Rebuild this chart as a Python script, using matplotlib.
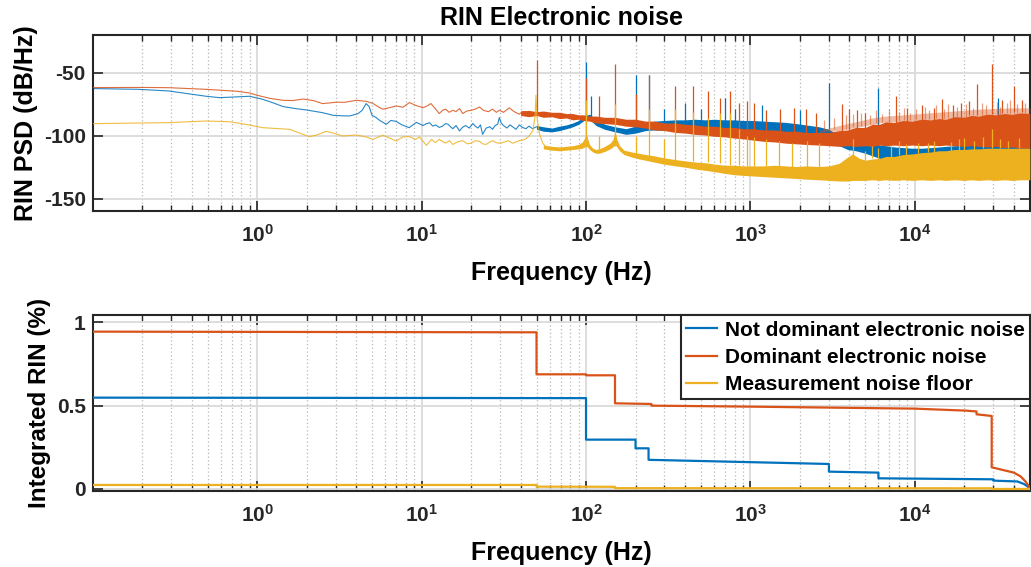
import numpy as np
import matplotlib
matplotlib.use("Agg")
import matplotlib.pyplot as plt
from matplotlib.ticker import FixedLocator, LogLocator, NullFormatter

plt.rcParams['font.family'] = ['Liberation Sans', 'DejaVu Sans']
plt.rcParams['font.weight'] = 'bold'
plt.rcParams['mathtext.fontset'] = 'custom'
plt.rcParams['mathtext.rm'] = 'Liberation Sans:bold'
plt.rcParams['mathtext.bf'] = 'Liberation Sans:bold'
plt.rcParams['mathtext.it'] = 'Liberation Sans:bold'

C_BLUE, C_ORANGE, C_YELLOW = '#0072BD', '#D95319', '#EDB120'

# ---------------- top panel: RIN PSD (dB/Hz) ----------------
# low-frequency traces (Hz, dB/Hz)
blue_lf_f = [0.1, 0.19, 0.29, 0.39, 0.49, 0.59, 0.75, 0.9, 1.08, 1.25, 1.44, 1.7, 2.0, 2.5, 2.9, 3.3,
             3.65, 4.1, 4.35, 4.6, 4.8, 5.0, 5.3, 5.55, 6.1, 6.5, 7.0, 7.6, 8.4, 9.3, 10.2, 10.7, 11.2,
             11.7, 12.2, 12.8, 13.4, 14.0, 14.5, 15.0, 15.5, 16.2, 17.0, 17.7, 18.5, 19.5, 20.5, 21.2,
             22.0, 22.8, 23.5, 24.7, 26.0, 27.0, 28.0, 29.0, 29.7, 30.5, 31.5, 33.0, 34.5, 35.8, 37.5,
             39.3, 41.0, 43.1, 45.0, 47.3, 50.0]
blue_lf_v = [-62.7, -63.3, -64.6, -67.0, -68.8, -69.9, -69.3, -68.8, -71.2, -74.0, -77.0, -78.5, -79.7,
             -81.8, -83.9, -84.3, -84.4, -82.6, -80.0, -74.6, -77.0, -84.0, -85.7, -87.9, -91.0, -88.0,
             -88.7, -91.5, -93.7, -89.5, -92.0, -90.5, -89.8, -92.5, -91.5, -93.5, -92.5, -90.5, -91.0,
             -93.0, -94.5, -92.0, -96.3, -93.5, -92.0, -94.0, -90.4, -92.5, -94.0, -91.5, -99.0, -94.0,
             -93.0, -95.0, -92.0, -91.0, -85.7, -90.0, -92.0, -94.0, -91.5, -93.0, -95.0, -91.5, -93.5,
             -94.5, -92.5, -94.5, -93.0]

orange_lf_f = [0.1, 0.2, 0.29, 0.49, 0.75, 0.9, 1.0, 1.2, 1.44, 1.65, 1.9, 2.2, 2.5, 2.8, 3.03, 3.4, 4.0,
               4.6, 5.05, 5.5, 5.82, 6.4, 7.0, 7.7, 8.44, 9.2, 10.2, 10.8, 11.4, 12.1, 12.8, 13.4, 14.0,
               14.7, 15.5, 16.2, 17.0, 17.8, 18.8, 20.0, 21.2, 22.5, 23.8, 25.5, 27.0, 28.5, 29.7, 31.5,
               34.2, 36.5, 39.3, 41.0, 43.0, 45.0, 47.3, 50.0]
orange_lf_v = [-61.9, -61.8, -62.0, -63.3, -64.8, -66.2, -68.0, -70.5, -72.0, -72.2, -71.0, -72.2, -74.6,
               -74.0, -73.5, -73.6, -72.0, -72.8, -74.4, -77.5, -79.0, -77.8, -76.5, -77.5, -73.8, -76.0,
               -77.8, -76.5, -74.6, -78.5, -82.5, -80.0, -79.0, -81.5, -79.9, -81.0, -78.5, -82.5, -80.5,
               -80.0, -79.0, -77.3, -80.0, -81.0, -79.0, -81.5, -79.9, -81.5, -78.0, -81.0, -83.0, -81.0,
               -81.0, -83.0, -82.0, -82.0]

yellow_lf_f = [0.1, 0.29, 0.49, 0.68, 0.9, 1.08, 1.58, 1.9, 2.08, 2.3, 2.63, 2.9, 3.32, 4.0, 4.6, 5.05,
               5.82, 6.4, 7.0, 7.7, 8.44, 9.2, 9.7, 10.7, 11.5, 12.1, 12.8, 13.4, 14.0, 14.8, 15.5, 16.5,
               17.8, 19.0, 20.0, 21.2, 22.5, 23.5, 24.7, 26.0, 27.0, 29.0, 31.1, 33.5, 35.8, 37.5, 39.3,
               41.5, 43.1, 45.1, 47.5, 49.0, 49.6, 50.3, 52.0, 54.5, 57.1]
yellow_lf_v = [-90.5, -89.7, -88.4, -89.0, -91.6, -93.7, -95.0, -99.0, -100.8, -99.5, -96.6, -98.0,
               -100.3, -99.5, -101.0, -103.0, -99.7, -102.0, -104.3, -101.0, -100.8, -103.0, -101.0,
               -107.7, -103.0, -105.5, -103.0, -104.5, -106.0, -104.0, -107.0, -105.0, -104.0, -106.5,
               -106.0, -104.0, -104.5, -106.5, -107.0, -105.0, -104.0, -106.0, -105.6, -104.0, -106.0,
               -105.0, -104.0, -103.5, -102.5, -100.3, -96.0, -85.0, -68.0, -85.0, -98.0, -106.0, -109.0]

# noise bands above ~50 Hz: frequency, lower edge, upper edge (dB/Hz)
orange_band_f = [40, 45, 50, 55, 62, 69, 76, 83, 90, 96, 105, 115, 130, 150, 175, 200, 230, 260, 300,
                 350, 400, 460, 530, 600, 700, 800, 900, 1030, 1200, 1400, 1640, 1900, 2170, 2615, 3000,
                 3460, 3900, 4370, 5000, 5510, 6100, 6650, 7500, 8500, 9640, 11000, 12500, 14000, 15400,
                 17500, 20000, 22000, 24500, 27500, 31000, 35000, 39000, 44000, 50000]
orange_band_lo = [-84, -85, -84, -85.5, -85, -86.5, -86, -87.5, -87, -88, -88.5, -90, -90.5, -91, -92.5,
                  -93, -94, -95.5, -96, -97.5, -98, -99, -99.5, -100.5, -101, -102, -102.5, -103.5,
                  -104.5, -105, -106, -106.5, -107, -107.5, -108, -108.5, -108, -108.5, -108, -108.5,
                  -107.5, -108, -107.5, -108, -107.5, -108, -107.5, -108, -107.5, -108, -108.5, -108,
                  -108.5, -109, -108.5, -109.5, -109, -110, -110]
orange_band_hi = [-80.5, -80, -81, -80.5, -81.5, -81.5, -82.5, -82.5, -83.5, -83.5, -84.5, -84.5, -85.5,
                  -85.5, -87, -87, -88.5, -88.5, -90, -90, -91, -91.5, -92.5, -92.5, -93.5, -93.5, -94.5,
                  -94.5, -95.5, -95.5, -96.5, -96.5, -97.5, -97.5, -97.5, -96, -95.5, -93.5, -93.5, -91,
                  -91, -89, -89.5, -88, -88.5, -87, -87.5, -86.5, -87, -85, -85.5, -84, -84.5, -83, -83.5,
                  -82.5, -83, -82, -82.5]
# pale upper fringe of the dominant-noise band
orange_haze_f = [2615, 3460, 4370, 5510, 6650, 9640, 15400, 24500, 39000, 50000]
orange_haze_lo = [-97.5, -96, -93.5, -91, -89, -88.5, -87, -84.5, -83, -82.5]
orange_haze_hi = [-96, -92, -89, -86, -84.5, -83, -81, -79, -78, -78]
# pale dense hair above the dominant-noise band
orange_hair_f = [2800, 3200, 3800, 4200, 4700, 5300, 5800, 6300, 7000, 8000, 8600, 9300, 10200, 11500,
                 12200, 13500, 15000, 16000, 18000, 20500, 22500, 25500, 27000, 31500, 33000, 36500,
                 38000, 42000, 47000]
orange_hair_lo = [-96, -95, -95, -93, -92, -91, -90, -89, -89, -88, -88, -88, -87, -87, -87, -86, -86,
                  -86, -85, -85, -84, -84, -83, -83, -83, -82, -82, -82, -82]
orange_hair_hi = [-88, -86, -84, -83, -82, -84, -80, -83, -79, -81, -78, -82, -79, -77, -80, -76, -79,
                  -75, -77, -75, -78, -74, -76, -73, -77, -74, -72, -75, -74]

blue_band_f = [50, 55, 62, 69, 76, 83, 90, 96, 100, 105, 115, 130, 150, 175, 200, 230, 260, 300, 350,
               400, 460, 530, 600, 700, 800, 900, 1030, 1200, 1400, 1640, 1900, 2170, 2615, 3000, 3460,
               3900, 4370, 5000, 5510, 6100, 6650, 7500, 8500, 9640, 11000, 12500, 14000, 15400, 17500,
               20000, 22000, 24500, 27500, 31000, 35000, 39000, 44000, 50000]
blue_band_lo = [-95, -96.5, -97, -96, -94.5, -93, -91, -88.5, -87, -87, -92, -95, -97, -99, -98, -96,
                -95.5, -96, -95.5, -96, -96.5, -96, -97, -96.5, -97, -97, -97.5, -97.5, -98, -98.5, -99,
                -99.5, -101, -103, -108, -111, -112, -114, -116, -118, -120, -121, -121.5, -122, -122,
                -121.5, -121, -120.5, -120, -120, -120, -120, -120, -120, -120, -120, -120, -120]
blue_band_hi = [-92, -93, -94, -92.5, -91.5, -90, -88, -85.5, -84, -83, -87.5, -91, -93, -94.5, -92.5,
                -90, -88.5, -88, -87.5, -87.5, -87, -87.5, -87, -87.5, -87.5, -88, -88, -88.5, -89,
                -89.5, -90.5, -91.5, -93, -95, -100, -102, -101, -104, -106, -107.5, -108, -109, -109.5,
                -110, -110, -109.5, -109, -108.5, -108, -107.5, -107.5, -107, -107, -107, -107, -107,
                -107, -107]

yellow_band_f = [55, 62, 69, 76, 83, 90, 95, 98, 100, 102, 105, 110, 115, 120, 130, 140, 146, 150, 154,
                 160, 170, 190, 210, 230, 260, 294, 350, 400, 466, 530, 600, 700, 800, 900, 1030, 1200,
                 1400, 1640, 1900, 2170, 2600, 3000, 3460, 3900, 4170, 4600, 5000, 5510, 6100, 6650, 7500,
                 8500, 9640, 11000, 12500, 14000, 15400, 17500, 20000, 22000, 24500, 27500, 31000, 35000,
                 39000, 44000, 50000]
yellow_band_lo = [-110.5, -111.5, -112, -111.5, -111, -110.5, -110, -109, -108, -109, -111, -113, -114,
                  -114, -112.5, -110.5, -109, -107, -109, -112, -115, -117, -118.5, -119.5, -121, -122.5,
                  -124, -125, -126.5, -127.5, -128.5, -130, -131, -131.5, -132, -132.5, -133, -133.5,
                  -134, -134.5, -135, -135.5, -136, -136, -135.5, -135.5, -135.5, -135, -135.5, -135,
                  -135.5, -135, -135.5, -135, -135.5, -135, -135.5, -135, -135.5, -135, -135.5, -135,
                  -135.5, -135, -135.5, -135, -135]
yellow_band_hi = [-107.5, -108.5, -109, -108.5, -108, -107, -105, -102, -97, -102, -107, -110, -111,
                  -110.5, -108.5, -106, -103, -96, -103, -108, -111.5, -113, -114, -115, -116, -117.5,
                  -119, -120, -121, -121.5, -122.5, -123.5, -123.5, -124, -124, -124, -123.5, -124,
                  -124.5, -124, -124.5, -124, -122, -117, -114.5, -118, -119.5, -118.5, -118, -116.5,
                  -116.5, -115, -114.5, -113.5, -113, -112, -112, -111, -111, -110.5, -110.5, -110, -110,
                  -110, -110, -110, -110]

# line spikes: frequency, base level, peak level (dB/Hz)
blue_spk_f = [100, 107, 200, 240, 300, 400, 500, 700, 800, 1170, 2000, 3000, 6000, 32000]
blue_spk_lo = [-88, -85, -95, -92, -90, -90, -90, -90, -90, -92, -93, -95, -110, -108]
blue_spk_hi = [-42, -68.6, -52, -52, -79, -74, -79, -70, -79, -76, -80, -58, -62, -70]

orange_spk_f = [50, 100, 120, 150, 200, 240, 350, 450, 550, 650, 750, 850, 950, 1050, 1250, 1520, 1850,
                2170, 2500, 3600, 4000, 4450, 5000, 7700, 9000, 11000, 13000, 14600, 17000, 19000, 21400,
                23800, 29400, 34000, 40000, 45000]
orange_spk_lo = [-82, -85, -86, -87, -89, -89, -92, -93, -94, -95, -95, -95, -96, -96, -97, -97, -97, -98,
                 -98, -97, -96, -95, -94, -90, -90, -89, -88, -87, -86, -86, -84, -84, -83, -82, -81, -81]
orange_spk_hi = [-40, -54, -68.6, -43.4, -67, -52, -60.6, -61, -64.5, -70, -64.5, -74, -72.5, -73.8, -80,
                 -79, -77.8, -79, -82, -75, -79, -80, -82, -68.6, -78, -76, -78, -71.2, -76, -74, -72.5,
                 -59.3, -43.4, -72, -60.6, -72]

yellow_spk_f = [100, 120, 150, 200, 243, 300, 350, 450, 550, 650, 750, 850, 950, 1050, 1250, 1500, 1800,
                2200, 2600, 4200, 5500, 8000, 12000, 20000, 29400]
yellow_spk_lo = [-109, -112, -108, -116, -117, -118, -119, -120, -121, -122, -123, -123, -124, -124,
                 -124, -125, -125, -125, -125, -118, -118, -115, -113, -111, -110]
yellow_spk_hi = [-72, -100, -75, -100, -79, -103, -79, -81, -86, -82, -82, -95, -100, -101, -103, -104,
                 -106, -104, -106, -103, -108, -104, -106, -102, -95]
# short hair on the noise-floor band at high frequency
yellow_hair_f = [5000, 6000, 7200, 8800, 10500, 13000, 16500, 18500, 23000, 26000, 33000, 37000, 43000]
yellow_hair_lo = [-120, -118, -117, -115, -114, -113, -112, -111, -111, -110, -110, -110, -110]
yellow_hair_hi = [-112, -110, -108, -107, -106, -104, -105, -103, -104, -101, -103, -104, -102]

# ---------------- bottom panel: integrated RIN (%) ----------------
blue_int_f = [0.1, 100, 100, 200, 200, 240, 240, 3000, 3000, 6000, 6000, 30000, 30000, 42000, 46000,
              48500, 50000]
blue_int_v = [0.548, 0.545, 0.296, 0.296, 0.244, 0.244, 0.175, 0.15, 0.104, 0.098, 0.064, 0.058, 0.05,
              0.045, 0.03, 0.015, 0.0]
orange_int_f = [0.1, 50, 50, 100, 100, 150, 150, 250, 250, 1000, 10000, 20500, 23700, 23700, 29300, 29300,
                40000, 44000, 47000, 49000, 50000]
orange_int_v = [0.944, 0.94, 0.688, 0.688, 0.682, 0.682, 0.514, 0.51, 0.50, 0.494, 0.482, 0.47, 0.465,
                0.448, 0.438, 0.13, 0.098, 0.075, 0.045, 0.02, 0.0]
yellow_int_f = [0.1, 50, 50, 150, 150, 29300, 29300, 50000]
yellow_int_v = [0.024, 0.024, 0.014, 0.013, 0.005, 0.004, 0.0, 0.0]

legend_labels = ['Not dominant electronic noise', 'Dominant electronic noise', 'Measurement noise floor']
x_major = [1, 10, 100, 1000, 10000]
x_major_labels = [r'$\mathbf{10^{0}}$', r'$\mathbf{10^{1}}$', r'$\mathbf{10^{2}}$',
                  r'$\mathbf{10^{3}}$', r'$\mathbf{10^{4}}$']
top_yticks = [-150, -100, -50]
bot_yticks = [0, 0.5, 1]
bot_yticklabels = ['0', '0.5', '1']

fig = plt.figure(figsize=(10.31, 5.67), dpi=100)
ax1 = fig.add_axes([0.0899, 0.6273, 0.909, 0.3115])
ax2 = fig.add_axes([0.0899, 0.1335, 0.909, 0.3104])

def style_axes(ax):
    ax.set_xscale('log')
    ax.set_xlim(0.1, 5e4)
    ax.xaxis.set_major_locator(FixedLocator(x_major))
    ax.xaxis.set_minor_locator(LogLocator(base=10, subs=np.arange(2, 10), numticks=30))
    ax.xaxis.set_minor_formatter(NullFormatter())
    ax.set_xticklabels(x_major_labels)
    ax.set_axisbelow(True)
    ax.grid(True, which='major', axis='both', color='#dadada', lw=1.3, ls='-')
    ax.grid(True, which='minor', axis='x', color='#b8b8b8', lw=0.9, ls=(0, (1, 2)))
    ax.tick_params(which='both', direction='in', top=True, right=True, colors='#262626')
    ax.tick_params(which='major', length=7, width=1.2, labelsize=15)
    ax.tick_params(which='minor', length=4, width=1.0)
    ax.tick_params(axis='x', which='major', pad=9)
    ax.tick_params(axis='y', which='major', pad=5)
    for s in ax.spines.values():
        s.set_linewidth(1.5)
        s.set_color('#262626')
    for lab in ax.get_xticklabels() + ax.get_yticklabels():
        lab.set_fontweight('bold')
    ax.set_xlabel('Frequency (Hz)', fontsize=18, fontweight='bold', labelpad=11)

# top panel (drawing order: blue, orange, yellow)
ax1.plot(blue_lf_f, blue_lf_v, color=C_BLUE, lw=0.8, alpha=0.85, zorder=2)
ax1.fill_between(blue_band_f, blue_band_lo, blue_band_hi, color=C_BLUE, lw=0, zorder=2)
ax1.vlines(blue_spk_f, blue_spk_lo, blue_spk_hi, color=C_BLUE, lw=0.9, zorder=2)

ax1.plot(orange_lf_f, orange_lf_v, color=C_ORANGE, lw=0.8, alpha=0.85, zorder=3)
ax1.fill_between(orange_haze_f, orange_haze_lo, orange_haze_hi, color=C_ORANGE, alpha=0.4, lw=0, zorder=3)
ax1.vlines(orange_hair_f, orange_hair_lo, orange_hair_hi, color=C_ORANGE, alpha=0.55, lw=0.9, zorder=3)
ax1.fill_between(orange_band_f, orange_band_lo, orange_band_hi, color=C_ORANGE, lw=0, zorder=3)
ax1.vlines(orange_spk_f, orange_spk_lo, orange_spk_hi, color=C_ORANGE, lw=0.9, zorder=3)

ax1.plot(yellow_lf_f, yellow_lf_v, color=C_YELLOW, lw=0.8, alpha=0.85, zorder=4)
ax1.fill_between(yellow_band_f, yellow_band_lo, yellow_band_hi, color=C_YELLOW, lw=0, zorder=4)
ax1.vlines(yellow_spk_f, yellow_spk_lo, yellow_spk_hi, color=C_YELLOW, lw=0.9, zorder=4)
ax1.vlines(yellow_hair_f, yellow_hair_lo, yellow_hair_hi, color=C_YELLOW, lw=0.9, zorder=4)

ax1.set_ylim(-160, -20)
ax1.set_yticks(top_yticks)
ax1.set_yticklabels([str(t) for t in top_yticks])
style_axes(ax1)
ax1.set_ylabel('RIN PSD (dB/Hz)', fontsize=18, fontweight='bold', labelpad=4)
ax1.set_title('RIN Electronic noise', fontsize=18, fontweight='bold', pad=7)

# bottom panel
l1, = ax2.plot(blue_int_f, blue_int_v, color=C_BLUE, lw=1.6, zorder=3)
l2, = ax2.plot(orange_int_f, orange_int_v, color=C_ORANGE, lw=1.6, zorder=3)
l3, = ax2.plot(yellow_int_f, yellow_int_v, color=C_YELLOW, lw=1.6, zorder=3)
ax2.set_ylim(-0.014, 1.042)
ax2.set_yticks(bot_yticks)
ax2.set_yticklabels(bot_yticklabels)
style_axes(ax2)
ax2.set_ylabel('Integrated RIN (%)', fontsize=17.5, fontweight='bold', labelpad=4)

leg = ax2.legend([l1, l2, l3], legend_labels, loc='upper right', borderaxespad=0.0,
                 prop={'size': 15, 'weight': 'bold'}, frameon=True, fancybox=False,
                 edgecolor='#262626', framealpha=1, handlelength=1.5, handletextpad=0.35,
                 borderpad=0.25, labelspacing=0.4)
leg.get_frame().set_linewidth(1.5)
for t in leg.get_texts():
    t.set_color('black')

fig.savefig('out.png', dpi=100)
